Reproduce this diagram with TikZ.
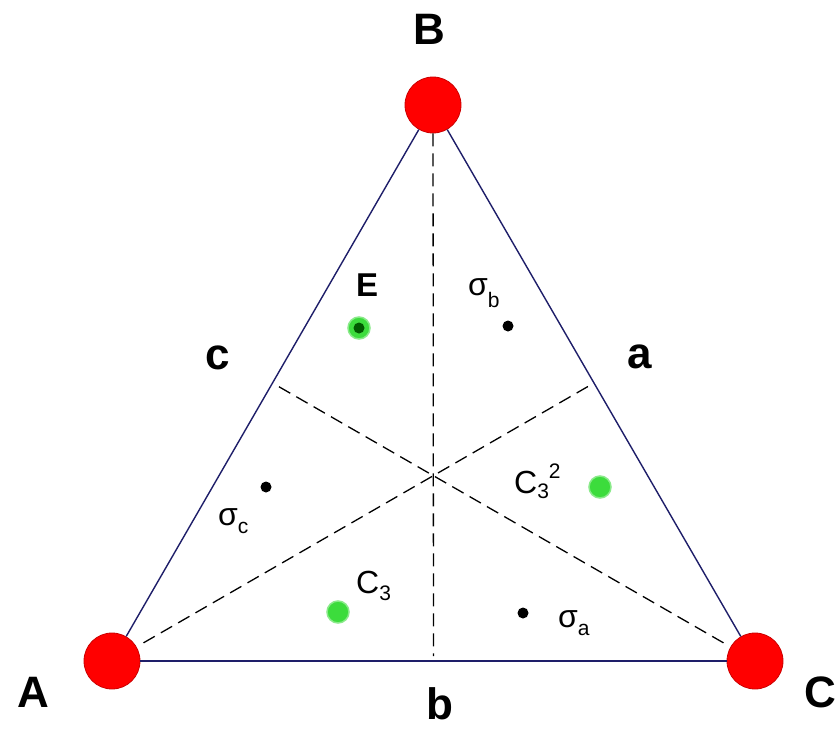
\documentclass[tikz,border=0pt]{standalone}
\usepackage{fontspec}
\setmainfont{Liberation Sans}
\usetikzlibrary{calc}
\definecolor{navy}{RGB}{30,30,105}
\definecolor{dotgreen}{RGB}{60,220,60}
\newcommand{\lowr}[2]{\raisebox{-#1pt}{\fontsize{21}{21}\selectfont #2}}
\newcommand{\uppr}[2]{\raisebox{#1pt}{\fontsize{21}{21}\selectfont #2}}
\begin{document}
\begin{tikzpicture}[x=1pt,y=-1pt,
  vertex/.style={circle,fill=red,draw=red!80!black,line width=0.8pt,minimum size=56pt,inner sep=0pt},
  side/.style={draw=navy,line width=1.4pt},
  median/.style={draw=black,line width=1.3pt,dash pattern=on 13pt off 7pt},
  bigl/.style={font=\fontsize{44}{44}\selectfont\bfseries,inner sep=0pt},
  lbl/.style={font=\fontsize{32}{32}\selectfont,anchor=base west,inner sep=0pt},
  gdot/.style={circle,fill=dotgreen,draw=dotgreen!60!white,line width=1.5pt,minimum size=22pt,inner sep=0pt},
  bdot/.style={circle,fill=black,minimum size=11pt,inner sep=0pt}]
\useasboundingbox (0,0) rectangle (840,728);
\fill[white] (0,0) rectangle (840,728);
% vertices
\node[vertex] (A) at (112,661) {};
\node[vertex] (B) at (433,105) {};
\node[vertex] (C) at (755,661) {};
% midpoints of the sides
\coordinate (mBC) at ($(B)!0.5!(C)$);
\coordinate (mAB) at ($(A)!0.5!(B)$);
\coordinate (mAC) at ($(A)!0.5!(C)$);
% medians
\draw[median,shorten <=8pt] (A) -- (mBC);
\draw[median,shorten <=8pt] (C) -- (mAB);
\draw[median,shorten >=5pt] (B) -- (mAC);
% sides
\draw[side] (A) -- (B);
\draw[side] (B) -- (C);
\draw[side] (C) -- (A);
% vertex and side labels
\node[bigl] (lB) at (429,29) {B};
\node[bigl] (lA) at (33,692) {A};
\node[bigl] (lC) at (820,692) {C};
\node[bigl] (la) at (640,357) {a};
\node[bigl] (lb) at (440,704) {b};
\node[bigl] (lc) at (218,358) {c};
% symmetry element labels
\node[lbl,font=\fontsize{33}{33}\selectfont\bfseries] (lE) at (356,296) {E};
\node[lbl] (lsb) at (468,295) {σ\lowr{12}{b}};
\node[lbl] (lsc) at (218,525) {σ\lowr{8}{c}};
\node[lbl] (lsa) at (558,627) {σ\lowr{8}{a}};
\node[lbl] (lC3) at (356,593) {C\lowr{7}{3}};
\node[lbl] (lC32) at (514,493) {C\lowr{5}{3}\uppr{15}{2}};
% dots
\node[gdot] (dE) at (359,328) {};
\fill[green!35!black] (dE.center) circle (5.5pt);
\node[gdot] (dC3) at (338,612) {};
\node[gdot] (dC32) at (600,487) {};
\node[bdot] (dsb) at (508,326) {};
\node[bdot] (dsc) at (266,487) {};
\node[bdot] (dsa) at (523,613) {};
\end{tikzpicture}
\end{document}
